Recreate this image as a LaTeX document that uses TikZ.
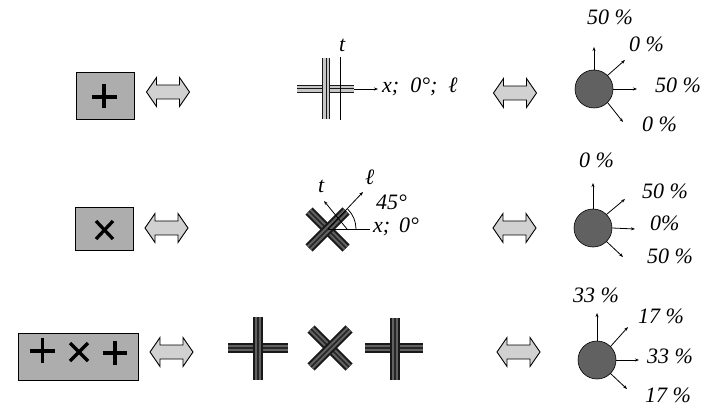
\documentclass[tikz,border=0pt]{standalone}
\usepackage{fontspec}
\setmainfont{Liberation Serif}
\usetikzlibrary{arrows.meta}
\begin{document}
\begin{tikzpicture}[x=1pt,y=-1pt,
  lab/.style={font=\itshape\fontsize{22}{24}\selectfont, inner sep=0pt, anchor=base west},
  box/.style={draw=black, line width=0.9pt, fill=black!32, inner sep=0pt},
  sym/.style={line width=3.3pt, black},
  ball/.style={circle, draw=black, line width=0.6pt, fill=black!62, minimum size=38pt, inner sep=0pt},
  ray/.style={line width=0.8pt, -{Stealth[length=4pt,width=3pt]}},
  axis/.style={line width=0.8pt},
  thinbar/.style={line width=8pt, draw=black!90, postaction={draw=black!22, line width=5.4pt}, postaction={draw=black!90, line width=1pt}},
  bar/.style={line width=10pt, draw=black!90, postaction={draw=black!62, line width=6pt}, postaction={draw=black!85, line width=1.6pt}},
  dblarr/.pic={\draw[line width=0.9pt, fill=black!18] (-21.5,0) -- (-11.5,-14.5) -- (-11.5,-7) -- (11.5,-7) -- (11.5,-14.5) -- (21.5,0) -- (11.5,14.5) -- (11.5,7) -- (-11.5,7) -- (-11.5,14.5) -- cycle;}
]
\useasboundingbox (0,0) rectangle (704,406);

% ---------- row 1 ----------
\node[box, minimum width=58pt, minimum height=47pt] (s1) at (105,95.5) {};
\draw[sym] (92,97) -- (117,97);
\draw[sym] (104,84) -- (104,108);
\pic at (168,92) {dblarr};

\draw[thinbar] (297,89) -- (354,89);
\draw[thinbar] (326,58) -- (326,119);
\coordinate (t1a) at (340,120);
\coordinate (t1b) at (340,57);
\draw[axis] (t1a) -- (t1b);
\coordinate (x1a) at (354,89);
\coordinate (x1b) at (378,89);
\draw[ray] (x1a) -- (x1b);
\node[lab] (lt1) at (339,52) {t};
\node[lab] (lx1) at (382,93) {x;\hspace{0.5em}0°;\hspace{0.5em}ℓ};
\pic at (515,93) {dblarr};

\node[ball] (b1) at (594,89) {};
\coordinate (b1n) at (594,47);
\coordinate (b1ne) at (625,60);
\coordinate (b1e) at (637,89);
\coordinate (b1se) at (623,122);
\draw[ray] (b1.north) -- (b1n);
\draw[ray] (b1.45) -- (b1ne);
\draw[ray] (b1.east) -- (b1e);
\draw[ray] (b1.-45) -- (b1se);
\node[lab] (p1a) at (587,25) {50 \%};
\node[lab] (p1b) at (629,52) {0 \%};
\node[lab] (p1c) at (655,93) {50 \%};
\node[lab] (p1d) at (642,132) {0 \%};

% ---------- row 2 ----------
\node[box, minimum width=58pt, minimum height=43pt] (s2) at (104,228.5) {};
\draw[sym] (96,221) -- (113,239);
\draw[sym] (96,239) -- (113,221);
\pic at (166.5,228) {dblarr};

\draw[bar] (309,211) -- (346,248);
\draw[bar] (309,248) -- (346,211);
\coordinate (c2) at (328,229);
\coordinate (x2) at (370,229);
\coordinate (l2) at (363,192);
\coordinate (t2a) at (347,229);
\coordinate (t2b) at (324,201);
\draw[axis] (c2) -- (x2);
\draw[ray] (c2) -- (l2);
\draw[ray] (t2a) -- (t2b);
\draw[axis] (356,229) arc[start angle=0, end angle=-45, radius=28];
\node[lab] (lt2) at (318,193) {t};
\node[lab] (ll2) at (365,185) {ℓ};
\node[lab] (la2) at (376,210) {45°};
\node[lab] (lx2) at (373,233) {x;\hspace{0.4em}0°};
\pic at (514.5,228) {dblarr};

\node[ball] (b2) at (593,228) {};
\coordinate (b2n) at (593,183);
\coordinate (b2ne) at (625,199);
\coordinate (b2e) at (635,229);
\coordinate (b2se) at (623,257);
\draw[ray] (b2.north) -- (b2n);
\draw[ray] (b2.45) -- (b2ne);
\draw[ray] (b2.east) -- (b2e);
\draw[ray] (b2.-45) -- (b2se);
\node[lab] (p2a) at (579,168) {0 \%};
\node[lab] (p2b) at (642,199) {50 \%};
\node[lab] (p2c) at (650,231) {0\%};
\node[lab] (p2d) at (647,263) {50 \%};

% ---------- row 3 ----------
\node[box, minimum width=120pt, minimum height=47pt] (s3) at (78,356.5) {};
\draw[sym] (30,351) -- (55,351);
\draw[sym] (42.5,338) -- (42.5,363);
\draw[sym] (70,343) -- (88,361);
\draw[sym] (70,361) -- (88,343);
\draw[sym] (103,353) -- (127,353);
\draw[sym] (115,341) -- (115,365);
\pic at (171.5,352) {dblarr};

\draw[bar] (228,348) -- (288,348);
\draw[bar] (258,317) -- (258,380);
\draw[bar] (311,329) -- (349,367);
\draw[bar] (311,367) -- (349,329);
\draw[bar] (365,348) -- (423,348);
\draw[bar] (395,318) -- (395,380);
\pic at (518.5,352) {dblarr};

\node[ball] (b3) at (597,360) {};
\coordinate (b3n) at (597,313);
\coordinate (b3ne) at (628,327);
\coordinate (b3e) at (639,360);
\coordinate (b3se) at (627,389);
\draw[ray] (b3.north) -- (b3n);
\draw[ray] (b3.45) -- (b3ne);
\draw[ray] (b3.east) -- (b3e);
\draw[ray] (b3.-45) -- (b3se);
\node[lab] (p3a) at (573,302) {33 \%};
\node[lab] (p3b) at (638,323) {17 \%};
\node[lab] (p3c) at (647,363) {33 \%};
\node[lab] (p3d) at (645,402) {17 \%};
\end{tikzpicture}
\end{document}
